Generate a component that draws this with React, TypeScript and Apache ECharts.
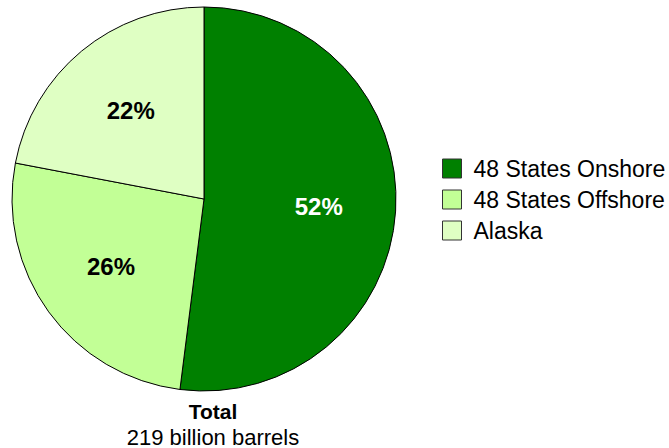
import React, { useEffect, useRef } from "react";
import * as echarts from "echarts";

const categories = ["48 States Onshore", "48 States Offshore", "Alaska"];
const shares = [52, 26, 22];
const sliceColors = ["#008000", "#C2FF96", "#DFFFC3"];
const labelColors = ["#ffffff", "#000000", "#000000"];
const totalTitle = "Total";
const totalSubtitle = "219 billion barrels";

const FONT = "'Liberation Sans', Arial, Helvetica, sans-serif";

export default function App() {
  const ref = useRef<HTMLDivElement>(null);
  useEffect(() => {
    if (!ref.current) return;
    const chart = echarts.init(ref.current, null, { renderer: "svg" });
    const data = categories.map((name, i) => ({
      name,
      value: shares[i],
      itemStyle: { color: sliceColors[i] },
    }));
    const labelData = categories.map((name, i) => ({
      name,
      value: shares[i],
      label: { color: labelColors[i] },
    }));
    chart.setOption({
      animation: false,
      backgroundColor: "#ffffff",
      legend: {
        orient: "vertical",
        left: 442,
        top: 157,
        padding: 0,
        itemWidth: 19,
        itemHeight: 19,
        itemGap: 8,
        selectedMode: false,
        data: categories,
        icon: "rect",
        itemStyle: { borderColor: "#333333", borderWidth: 1 },
        textStyle: {
          fontFamily: FONT,
          fontSize: 23,
          lineHeight: 20,
          color: "#000000",
          padding: [0, 0, 0, 7],
        },
      },
      title: {
        text: totalTitle,
        subtext: totalSubtitle,
        left: 213,
        top: 401,
        padding: 0,
        textAlign: "center",
        itemGap: 4,
        textStyle: { fontFamily: FONT, fontSize: 21, fontWeight: "bold", color: "#000" },
        subtextStyle: { fontFamily: FONT, fontSize: 22, color: "#000" },
      },
      series: [
        {
          type: "pie",
          center: [204, 199],
          radius: [0, 192],
          startAngle: 90,
          clockwise: true,
          silent: true,
          label: { show: false },
          labelLine: { show: false },
          emphasis: { disabled: true },
          itemStyle: { borderColor: "#000000", borderWidth: 1 },
          data,
        },
        {
          type: "pie",
          center: [204, 199],
          radius: [32, 192],
          startAngle: 90,
          clockwise: true,
          silent: true,
          emphasis: { disabled: true },
          itemStyle: { color: "rgba(0,0,0,0)", borderWidth: 0 },
          labelLine: { show: false },
          label: {
            show: true,
            position: "inside",
            formatter: "{c}%",
            fontFamily: FONT,
            fontSize: 24,
            fontWeight: "bold",
          },
          data: labelData,
        },
      ],
    });
    return () => chart.dispose();
  }, []);
  return <div ref={ref} style={{ width: 669, height: 448, position: "absolute", left: 0, top: 0 }} />;
}
